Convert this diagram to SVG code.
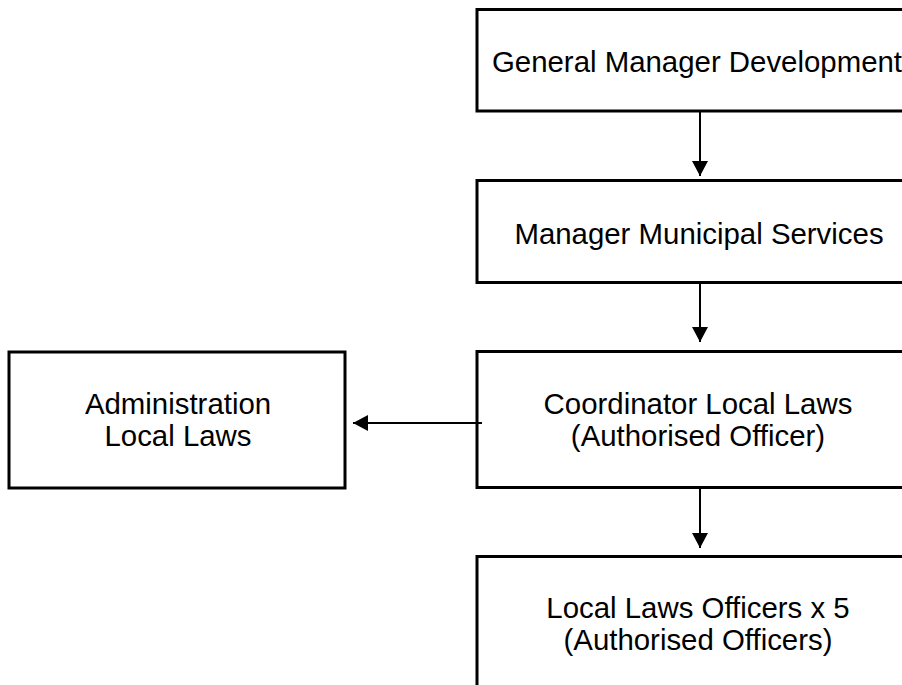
<svg xmlns="http://www.w3.org/2000/svg" width="902" height="685" viewBox="0 0 902 685">
<style>
.box{fill:#fff;stroke:#000;stroke-width:3}
.lbl{font-family:"Liberation Sans",Arial,sans-serif;font-size:29.4px;fill:#000;text-anchor:middle}
.conn{stroke:#000;stroke-width:2;fill:none}
</style>
<defs>
<marker id="ah" markerUnits="userSpaceOnUse" markerWidth="16" markerHeight="16" viewBox="0 0 15 16" refX="15" refY="8" orient="auto">
<path d="M0,0 L15,8 L0,16 Z" fill="#000"/>
</marker>
</defs>
<rect width="902" height="685" fill="#fff"/>
<g id="gm">
<rect class="box" x="477" y="9.5" width="460" height="101.5"/>
<text class="lbl" x="697" y="72">General Manager Development</text>
</g>
<g id="mms">
<rect class="box" x="477" y="180.5" width="460" height="102"/>
<text class="lbl" x="699" y="244">Manager Municipal Services</text>
</g>
<g id="coord">
<rect class="box" x="477" y="351.5" width="460" height="136"/>
<text class="lbl" x="698" y="414">Coordinator Local Laws</text>
<text class="lbl" x="698" y="446">(Authorised Officer)</text>
</g>
<g id="admin">
<rect class="box" x="9" y="352" width="336" height="136"/>
<text class="lbl" x="178" y="414">Administration</text>
<text class="lbl" x="178" y="446">Local Laws</text>
</g>
<g id="officers">
<rect class="box" x="477" y="556.5" width="460" height="150"/>
<text class="lbl" x="698" y="618">Local Laws Officers x 5</text>
<text class="lbl" x="698" y="650">(Authorised Officers)</text>
</g>
<g id="connectors">
<line class="conn" x1="700" y1="112" x2="700" y2="176" marker-end="url(#ah)"/>
<line class="conn" x1="700" y1="283" x2="700" y2="342" marker-end="url(#ah)"/>
<line class="conn" x1="700" y1="489" x2="700" y2="548" marker-end="url(#ah)"/>
<line class="conn" x1="482" y1="423" x2="353" y2="423" marker-end="url(#ah)"/>
</g>
</svg>
